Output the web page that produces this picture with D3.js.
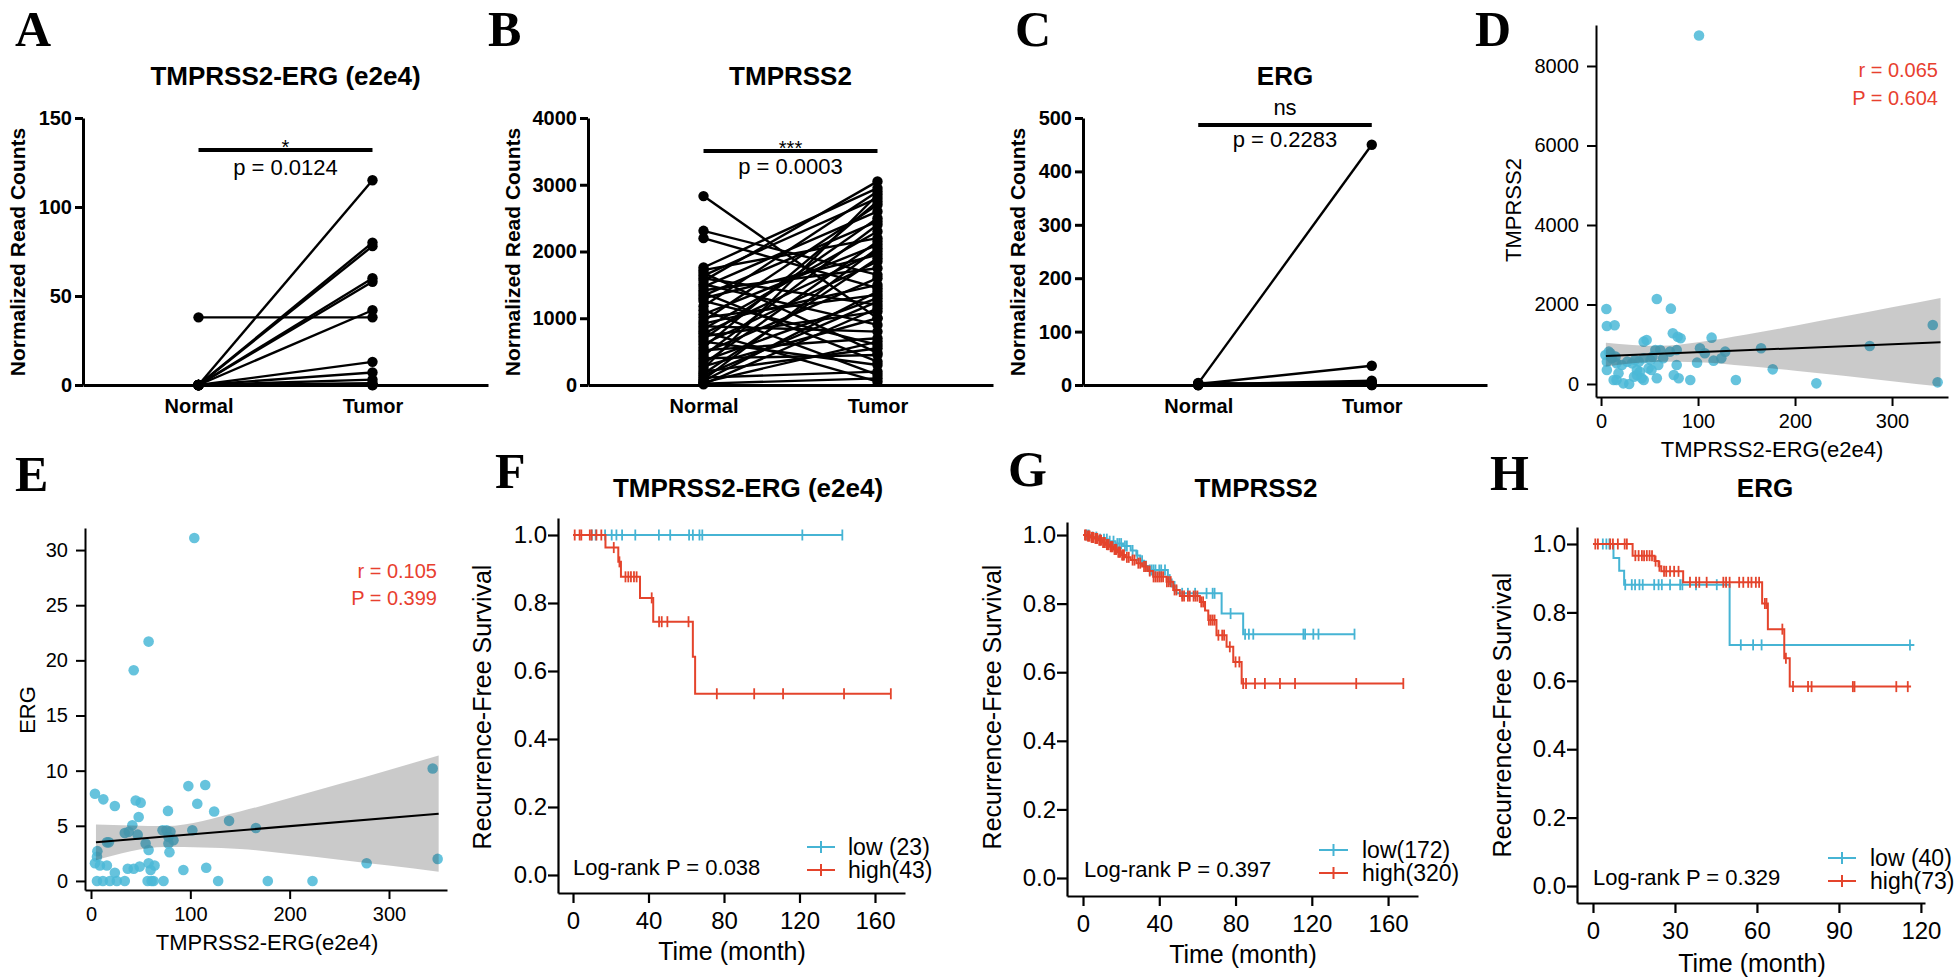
<!DOCTYPE html>
<html>
<head>
<meta charset="utf-8">
<script src="https://d3js.org/d3.v7.min.js"></script>
<style>
  body { margin: 0; background: #fff; }
  svg { display: block; }
</style>
</head>
<body>
<script>
// ---------------- data ----------------
var pairLabels = ["Normal", "Tumor"];
var panelLetters = ["A", "B", "C", "D", "E", "F", "G", "H"];
var topTitles = ["TMPRSS2-ERG (e2e4)", "TMPRSS2", "ERG"];
var sigMarks = ["*", "***", "ns"];
var pTexts = ["p = 0.0124", "p = 0.0003", "p = 0.2283"];

// A: TMPRSS2-ERG (e2e4), paired normal / tumor
var aNormal = [38, 0, 0, 0, 0, 0, 0, 0, 0, 0, 0, 0, 0, 0];
var aTumor  = [38, 115, 80, 78, 60, 58, 42, 13, 7, 3, 1, 0, 0, 0];
var aTicks = [0, 50, 100, 150];

// B: TMPRSS2, paired normal / tumor
var bNormal = [2830, 2310, 2200, 1760, 1720, 1680, 1640, 1600, 1560, 1510, 1470, 1420, 1380, 1340, 1300, 1260,
  1180, 1120, 1060, 1010, 960, 920, 880, 840, 800, 770, 730, 690, 650, 610, 560, 520, 480, 440, 400, 360,
  320, 280, 240, 200, 170, 140, 110, 80, 60, 40, 20, 10];
var bTumor = [1000, 1650, 1450, 2950, 2200, 480, 2800, 1200, 3050, 900, 2600, 1750, 350, 2450, 1950, 600,
  2900, 150, 2100, 1350, 2700, 1500, 800, 2300, 50, 2000, 1100, 2500, 300, 1850, 2750, 700, 1600, 2400,
  450, 1300, 2150, 1000, 2850, 550, 1900, 1250, 200, 2050, 1400, 650, 100, 1150];
var bTicks = [0, 1000, 2000, 3000, 4000];

// C: ERG, paired normal / tumor
var cNormal = [3, 2, 1, 0, 0, 0, 0, 4];
var cTumor  = [450, 36, 8, 5, 3, 1, 0, 0];
var cTicks = [0, 100, 200, 300, 400, 500];

// D: TMPRSS2 vs TMPRSS2-ERG(e2e4)
var dFusion = [101, 5.5, 6, 14, 57.5, 72, 74, 79, 82, 114, 44, 47, 4.5, 9.6, 11, 6, 6, 13, 16, 18, 23, 29, 34, 37,
  40, 44, 49, 57.5, 59, 56, 61, 64, 71, 78, 78, 80, 75, 92, 99, 102, 107, 116, 124, 128, 139, 165, 177, 222,
  277, 342, 347, 16, 21.5, 27, 32, 35, 39, 44, 51, 53, 15, 8, 52, 37, 42];
var dTmprss2 = [8767, 1888, 1460, 1477, 2140, 1896, 1275, 1190, 1150, 1166, 1065, 1107, 730, 772, 646, 562, 352,
  100, 100, 268, 17, 0, 185, 226, 310, 100, 394, 143, 478, 856, 856, 646, 814, 856, 478, 143, 226, 100, 537,
  898, 772, 587, 646, 814, 100, 898, 369, 17, 956, 1485, 42, 520, 478, 562, 520, 604, 562, 646, 604, 688, 688,
  814, 352, 352, 143];
var dFitX = [5, 350], dFitY = [705, 1050];
var dBandX  = [5, 60, 100, 150, 200, 250, 300, 350];
var dBandLo = [440, 560, 550, 455, 335, 205, 70, -65];
var dBandHi = [1040, 960, 1050, 1245, 1465, 1695, 1930, 2165];
var dStats = ["r = 0.065", "P = 0.604"];

// E: ERG vs TMPRSS2-ERG(e2e4)
var eFusion = [104, 58, 43, 4, 12.4, 24, 45, 50, 48, 98, 115, 107, 124, 77.5, 41.6, 34, 38, 47, 72, 76, 80, 78, 83,
  78, 79, 102, 139, 166, 16, 6.4, 55, 58, 344, 349, 277.5, 4, 9, 16, 24, 37, 43, 49, 58, 64, 60, 93, 116, 6, 12,
  19, 26, 34, 57, 63, 73, 128, 178, 223, 6, 18, 61];
var eErg = [31.1, 21.7, 19.1, 7.9, 7.4, 6.8, 7.3, 7.1, 5.8, 8.6, 8.7, 7.0, 6.3, 6.35, 5.05, 4.35, 4.45, 4.2, 4.6,
  4.6, 4.45, 4.0, 3.7, 3.4, 2.6, 4.6, 5.45, 4.8, 3.5, 2.7, 3.4, 2.8, 10.2, 2.0, 1.6, 1.6, 1.4, 1.4, 0.75, 1.1,
  1.1, 1.3, 1.6, 1.4, 1.0, 1.0, 1.2, 0, 0, 0, 0, 0, 0, 0, 0, 0, 0, 0, 2.2, 3.5, 0];
var eFitX = [5, 350], eFitY = [3.5, 6.1];
var eBandX  = [5, 75, 150, 200, 250, 300, 350];
var eBandLo = [1.88, 3.08, 2.9, 2.44, 1.92, 1.39, 0.83];
var eBandHi = [5.12, 4.98, 6.3, 7.52, 8.78, 10.07, 11.37];
var eStats = ["r = 0.105", "P = 0.399"];

// F: RFS by TMPRSS2-ERG (e2e4)  [time, survival after the drop]
var fLowSteps = [];
var fLowEnd = 143;
var fLowCens = [10, 12, 17, 20.5, 23, 26, 33, 45.5, 51.5, 61.5, 63.5, 67, 68.5, 121.5, 142.7];
var fHighSteps = [[17.2, 0.963], [24, 0.921], [25.4, 0.877], [35.5, 0.815], [42.5, 0.745], [63.5, 0.642], [64.7, 0.533]];
var fHighEnd = 168.4;
var fHighCens = [0.9, 3.5, 4.4, 8.9, 9.8, 12.4, 15, 21.6, 24.6, 27.8, 29.3, 30.7, 32.3, 33.7, 41.7, 45.6, 47, 50,
  61.2, 76.2, 96, 111.3, 143.6, 168.4];
var fLegend = ["low (23)", "high(43)"];
var fLogRank = "Log-rank P = 0.038";

// G: RFS by TMPRSS2
var gLowSteps = [[4, 0.994], [8, 0.988], [13, 0.982], [17, 0.975], [21, 0.968], [25, 0.955], [28, 0.94], [30, 0.925],
  [32, 0.91], [34, 0.898], [44.5, 0.87], [46.5, 0.85], [49, 0.83], [72.7, 0.771], [84, 0.711]];
var gLowEnd = 142.7;
var gLowCens = [2, 3, 5, 7, 9, 11, 12.5, 14, 16, 18, 19, 20, 22, 23, 26, 28.5, 31, 33, 35, 36, 37, 38, 40, 41, 43,
  45.5, 48, 52, 55, 58.8, 64.8, 68, 69, 77.4, 85, 87, 89.3, 115.6, 116.5, 120.8, 123.5, 142.4];
var gHighSteps = [[2, 0.997], [4, 0.993], [6, 0.99], [8, 0.985], [10, 0.978], [12, 0.972], [14, 0.966], [16, 0.958],
  [18, 0.95], [20, 0.942], [22, 0.935], [25, 0.927], [28, 0.918], [31, 0.908], [34, 0.895], [36.8, 0.878],
  [43.8, 0.864], [47.3, 0.84], [50.8, 0.822], [61.3, 0.805], [64, 0.78], [65.7, 0.752], [70, 0.708],
  [75.3, 0.674], [78.8, 0.63], [83.2, 0.567]];
var gHighEnd = 168;
var gHighCens = [1, 1.5, 2.5, 3, 3.5, 4.5, 5, 5.5, 6.5, 7, 7.5, 8.5, 9, 9.5, 10.5, 11, 11.5, 12.5, 13, 13.5, 14.5, 15,
  15.5, 16.5, 17, 17.5, 18.5, 19, 19.5, 20.5, 21, 21.5, 23, 24, 26, 27, 29, 30, 32, 33, 35, 37, 38, 39, 40, 41,
  42, 44, 45, 46, 48, 49, 52, 53, 55, 56, 58, 59, 60, 62, 63, 66, 67, 68, 69, 71, 73, 74, 77, 80, 82, 84, 85.5,
  90.2, 95.4, 103.3, 111.2, 143.3, 168];
var gLegend = ["low(172)", "high(320)"];
var gLogRank = "Log-rank P = 0.397";

// H: RFS by ERG
var hLowSteps = [[7.5, 0.959], [9.6, 0.922], [11.4, 0.881], [50, 0.705]];
var hLowEnd = 117.6;
var hLowCens = [3.6, 4.9, 6, 11.8, 14.2, 15.4, 17, 18.2, 22.4, 24, 25.2, 28.2, 31.9, 32.7, 37.7, 45.3, 54.1, 58.6,
  61.7, 116];
var hHighSteps = [[14.5, 0.966], [22.5, 0.95], [24, 0.935], [25, 0.92], [33, 0.888], [61.9, 0.826], [64, 0.751],
  [70, 0.666], [72, 0.583]];
var hHighEnd = 116.4;
var hHighCens = [0.85, 1.8, 6.3, 7.3, 9.1, 11.6, 12.4, 15.5, 16.7, 17.9, 18.7, 19.7, 20.7, 21.6, 22.9, 24.3, 26,
  26.8, 28.2, 29.7, 31.3, 35.5, 37.7, 38.9, 41.6, 47.7, 48.7, 50, 53.5, 55, 56.8, 58, 59.6, 60.8, 62.9, 63.5,
  69.3, 70.6, 73.2, 78.7, 80, 95.1, 95.7, 111, 115.2];
var hLegend = ["low (40)", "high(73)"];
var hLogRank = "Log-rank P = 0.329";

var survTicks = [0, 0.2, 0.4, 0.6, 0.8, 1.0];

// ---------------- drawing ----------------
var SANS = "'Liberation Sans', Arial, Helvetica, sans-serif";
var SERIF = "'Liberation Serif', 'Times New Roman', serif";
var LOW = "#46b4d4", HIGH = "#e4442c", DOT = "#4bb8d7", RED = "#e8402f";
var plain = d3.format("d");

var svg = d3.select("body").append("svg").attr("width", 1959).attr("height", 980);

function txt(x, y, s, size, opt) {
  opt = opt || {};
  var t = svg.append("text").attr("x", x).attr("y", y).text(s)
    .attr("font-family", opt.family || SANS).attr("font-size", size)
    .attr("font-weight", opt.bold ? "bold" : "normal")
    .attr("text-anchor", opt.anchor || "start")
    .attr("fill", opt.fill || "#000");
  if (opt.rotate) {
    t.attr("x", 0).attr("y", 0).attr("dy", "0.35em")
      .attr("transform", "translate(" + x + "," + y + ") rotate(-90)");
  }
  return t;
}

function styleAxis(ax, size, bold, width) {
  ax.attr("font-family", null).attr("font-size", null);
  ax.selectAll("text").attr("font-family", SANS).attr("font-size", size)
    .attr("font-weight", bold ? "bold" : "normal").attr("fill", "#000");
  ax.selectAll("path, line").attr("stroke", "#000").attr("stroke-width", width);
}

// panel letters
var letterPos = [[15, 46], [488, 46], [1015, 46], [1475, 46], [15, 491], [495, 488], [1008, 486], [1490, 490]];
panelLetters.forEach(function (l, i) {
  txt(letterPos[i][0], letterPos[i][1], l, 50, { family: SERIF, bold: true });
});

// ----- paired plots A-C -----
function paired(o) {
  var x = d3.scalePoint().domain(pairLabels).range([o.x0, o.x1]).padding(0.664);
  var y = d3.scaleLinear().domain([0, o.max]).range([385, 118]);
  var g = svg.append("g");

  var ay = g.append("g").attr("transform", "translate(" + o.x0 + ",0)")
    .call(d3.axisLeft(y).tickValues(o.ticks).tickFormat(plain).tickSize(8).tickPadding(3).tickSizeOuter(0));
  styleAxis(ay, 20, true, 3);
  var ax = g.append("g").attr("transform", "translate(0,385)")
    .call(d3.axisBottom(x).tickSize(0).tickPadding(14).tickSizeOuter(0));
  styleAxis(ax, 20, true, 3);

  g.selectAll(".pl").data(d3.zip(o.normal, o.tumor)).join("line").attr("class", "pl")
    .attr("x1", x("Normal")).attr("x2", x("Tumor"))
    .attr("y1", function (d) { return y(d[0]); }).attr("y2", function (d) { return y(d[1]); })
    .attr("stroke", "#000").attr("stroke-width", 2.4);
  g.selectAll(".pn").data(o.normal).join("circle").attr("class", "pn")
    .attr("cx", x("Normal")).attr("cy", function (d) { return y(d); }).attr("r", 5.2).attr("fill", "#000");
  g.selectAll(".pt").data(o.tumor).join("circle").attr("class", "pt")
    .attr("cx", x("Tumor")).attr("cy", function (d) { return y(d); }).attr("r", 5.2).attr("fill", "#000");

  // significance bar
  g.append("line").attr("x1", x("Normal")).attr("x2", x("Tumor"))
    .attr("y1", o.barY).attr("y2", o.barY).attr("stroke", "#000").attr("stroke-width", 4);
  var mid = (x("Normal") + x("Tumor")) / 2;
  txt(mid, o.sigY, o.sig, o.sig === "ns" ? 22 : 20, { anchor: "middle" });
  txt(mid, o.pY, o.p, 22, { anchor: "middle" });

  txt((o.x0 + o.x1) / 2, 85, o.title, 26, { bold: true, anchor: "middle" });
  txt(o.labX, 252, "Normalized Read Counts", 21, { bold: true, anchor: "middle", rotate: true });
}

paired({ x0: 83, x1: 488, max: 150, ticks: aTicks, normal: aNormal, tumor: aTumor, labX: 18,
  barY: 150, sigY: 154, pY: 175, sig: sigMarks[0], p: pTexts[0], title: topTitles[0] });
paired({ x0: 588, x1: 993, max: 4000, ticks: bTicks, normal: bNormal, tumor: bTumor, labX: 513,
  barY: 151, sigY: 155, pY: 174, sig: sigMarks[1], p: pTexts[1], title: topTitles[1] });
paired({ x0: 1083, x1: 1487, max: 500, ticks: cTicks, normal: cNormal, tumor: cTumor, labX: 1018,
  barY: 125, sigY: 115, pY: 147, sig: sigMarks[2], p: pTexts[2], title: topTitles[2] });

// ----- scatter plots D, E -----
function scatter(o) {
  var x = d3.scaleLinear().domain(o.xd).range(o.xr);
  var y = d3.scaleLinear().domain(o.yd).range(o.yr);
  var g = svg.append("g");

  g.selectAll(".pt").data(d3.zip(o.xs, o.ys)).join("circle").attr("class", "pt")
    .attr("cx", function (d) { return x(d[0]); }).attr("cy", function (d) { return y(d[1]); })
    .attr("r", 5.3).attr("fill", DOT).attr("fill-opacity", 0.85);

  var band = d3.area()
    .x(function (d) { return x(d[0]); })
    .y0(function (d) { return y(d[1]); })
    .y1(function (d) { return y(d[2]); })
    .curve(d3.curveMonotoneX);
  g.append("path").datum(d3.zip(o.bandX, o.bandLo, o.bandHi)).attr("d", band)
    .attr("fill", "#333").attr("fill-opacity", 0.26);
  g.append("path").datum(d3.zip(o.fitX, o.fitY))
    .attr("d", d3.line().x(function (d) { return x(d[0]); }).y(function (d) { return y(d[1]); }))
    .attr("stroke", "#000").attr("stroke-width", 2).attr("fill", "none");

  var ax = g.append("g").attr("transform", "translate(0," + o.yr[0] + ")")
    .call(d3.axisBottom(x).tickValues(o.xticks).tickFormat(plain).tickSize(9).tickPadding(8).tickSizeOuter(0));
  styleAxis(ax, 20, false, 2);
  var ay = g.append("g").attr("transform", "translate(" + o.xr[0] + ",0)")
    .call(d3.axisLeft(y).tickValues(o.yticks).tickFormat(plain).tickSize(9).tickPadding(8).tickSizeOuter(0));
  styleAxis(ay, 20, false, 2);

  txt(o.statX, o.statY[0], o.stats[0], 20, { anchor: "end", fill: RED });
  txt(o.statX, o.statY[1], o.stats[1], 20, { anchor: "end", fill: RED });
  txt(o.xlab[0], o.xlab[1], "TMPRSS2-ERG(e2e4)", 22, { anchor: "middle" });
  txt(o.ylab[0], o.ylab[1], o.ylabText, 22, { anchor: "middle", rotate: true });
}

scatter({ xd: [-5.2, 357.7], xr: [1596, 1948], yd: [-327, 9031], yr: [397, 25],
  xs: dFusion, ys: dTmprss2, bandX: dBandX, bandLo: dBandLo, bandHi: dBandHi, fitX: dFitX, fitY: dFitY,
  xticks: [0, 100, 200, 300], yticks: [0, 2000, 4000, 6000, 8000],
  stats: dStats, statX: 1938, statY: [77, 105], xlab: [1772, 457], ylab: [1513, 210], ylabText: "TMPRSS2" });
scatter({ xd: [-6.04, 358.4], xr: [85, 447], yd: [-0.82, 32.0], yr: [890, 528],
  xs: eFusion, ys: eErg, bandX: eBandX, bandLo: eBandLo, bandHi: eBandHi, fitX: eFitX, fitY: eFitY,
  xticks: [0, 100, 200, 300], yticks: [0, 5, 10, 15, 20, 25, 30],
  stats: eStats, statX: 437, statY: [578, 605], xlab: [267, 950], ylab: [27, 710], ylabText: "ERG" });

// ----- Kaplan-Meier plots F-H -----
function survAt(steps, t) {
  var s = 1;
  steps.forEach(function (p) { if (p[0] <= t) s = p[1]; });
  return s;
}

function km(o) {
  var x = d3.scaleLinear().domain(o.xd).range(o.xr);
  var y = d3.scaleLinear().domain(o.yd).range(o.yr);
  var g = svg.append("g");

  var ax = g.append("g").attr("transform", "translate(0," + o.yr[0] + ")")
    .call(d3.axisBottom(x).tickValues(o.xticks).tickFormat(plain).tickSize(10).tickPadding(9).tickSizeOuter(0));
  styleAxis(ax, 24, false, 2.2);
  var ay = g.append("g").attr("transform", "translate(" + o.xr[0] + ",0)")
    .call(d3.axisLeft(y).tickValues(survTicks).tickFormat(d3.format(".1f")).tickSize(10).tickPadding(1).tickSizeOuter(0));
  styleAxis(ay, 24, false, 2.2);

  var line = d3.line().x(function (d) { return x(d[0]); }).y(function (d) { return y(d[1]); })
    .curve(d3.curveStepAfter);
  var curves = [
    { steps: o.lowSteps, end: o.lowEnd, cens: o.lowCens, col: LOW },
    { steps: o.highSteps, end: o.highEnd, cens: o.highCens, col: HIGH }
  ];
  curves.forEach(function (c) {
    var pts = [[0, 1]].concat(c.steps);
    pts.push([c.end, pts[pts.length - 1][1]]);
    g.append("path").attr("d", line(pts)).attr("fill", "none")
      .attr("stroke", c.col).attr("stroke-width", 2);
    g.selectAll(null).data(c.cens).join("line")
      .attr("x1", function (t) { return x(t); }).attr("x2", function (t) { return x(t); })
      .attr("y1", function (t) { return y(survAt(c.steps, t)) - 5.5; })
      .attr("y2", function (t) { return y(survAt(c.steps, t)) + 5.5; })
      .attr("stroke", c.col).attr("stroke-width", 1.8);
  });

  // legend
  [LOW, HIGH].forEach(function (col, i) {
    var ly = o.legY[i];
    g.append("line").attr("x1", o.legX[0]).attr("x2", o.legX[1]).attr("y1", ly).attr("y2", ly)
      .attr("stroke", col).attr("stroke-width", 2);
    var cx = (o.legX[0] + o.legX[1]) / 2;
    g.append("line").attr("x1", cx).attr("x2", cx).attr("y1", ly - 6).attr("y2", ly + 6)
      .attr("stroke", col).attr("stroke-width", 2);
    txt(o.legTextX, ly + 8, o.legend[i], 23);
  });

  txt(o.lrX, o.lrY, o.logRank, 22);
  txt(o.title[0], 497, o.title[1], 26, { bold: true, anchor: "middle" });
  txt(o.xlab[0], o.xlab[1], "Time (month)", 25, { anchor: "middle" });
  txt(o.ylab[0], o.ylab[1], "Recurrence-Free Survival", 25, { anchor: "middle", rotate: true });
}

km({ xd: [-7.95, 175.9], xr: [558, 905], yd: [-0.053, 1.050], yr: [893, 518], xticks: [0, 40, 80, 120, 160],
  lowSteps: fLowSteps, lowEnd: fLowEnd, lowCens: fLowCens,
  highSteps: fHighSteps, highEnd: fHighEnd, highCens: fHighCens,
  legend: fLegend, legX: [807, 835], legY: [847, 870], legTextX: 848,
  logRank: fLogRank, lrX: 573, lrY: 875,
  title: [748, topTitles[0]], xlab: [732, 960], ylab: [482, 707] });
km({ xd: [-8.4, 175.7], xr: [1067, 1418], yd: [-0.0525, 1.038], yr: [896, 522], xticks: [0, 40, 80, 120, 160],
  lowSteps: gLowSteps, lowEnd: gLowEnd, lowCens: gLowCens,
  highSteps: gHighSteps, highEnd: gHighEnd, highCens: gHighCens,
  legend: gLegend, legX: [1319, 1348], legY: [850, 873], legTextX: 1362,
  logRank: gLogRank, lrX: 1084, lrY: 877,
  title: [1256, topTitles[1]], xlab: [1243, 963], ylab: [992, 707] });
km({ xd: [-5.85, 121.5], xr: [1577, 1925], yd: [-0.0497, 1.0497], yr: [903, 527], xticks: [0, 30, 60, 90, 120],
  lowSteps: hLowSteps, lowEnd: hLowEnd, lowCens: hLowCens,
  highSteps: hHighSteps, highEnd: hHighEnd, highCens: hHighCens,
  legend: hLegend, legX: [1828, 1856], legY: [858, 881], legTextX: 1870,
  logRank: hLogRank, lrX: 1593, lrY: 885,
  title: [1765, topTitles[2]], xlab: [1752, 972], ylab: [1502, 715] });
</script>
</body>
</html>
